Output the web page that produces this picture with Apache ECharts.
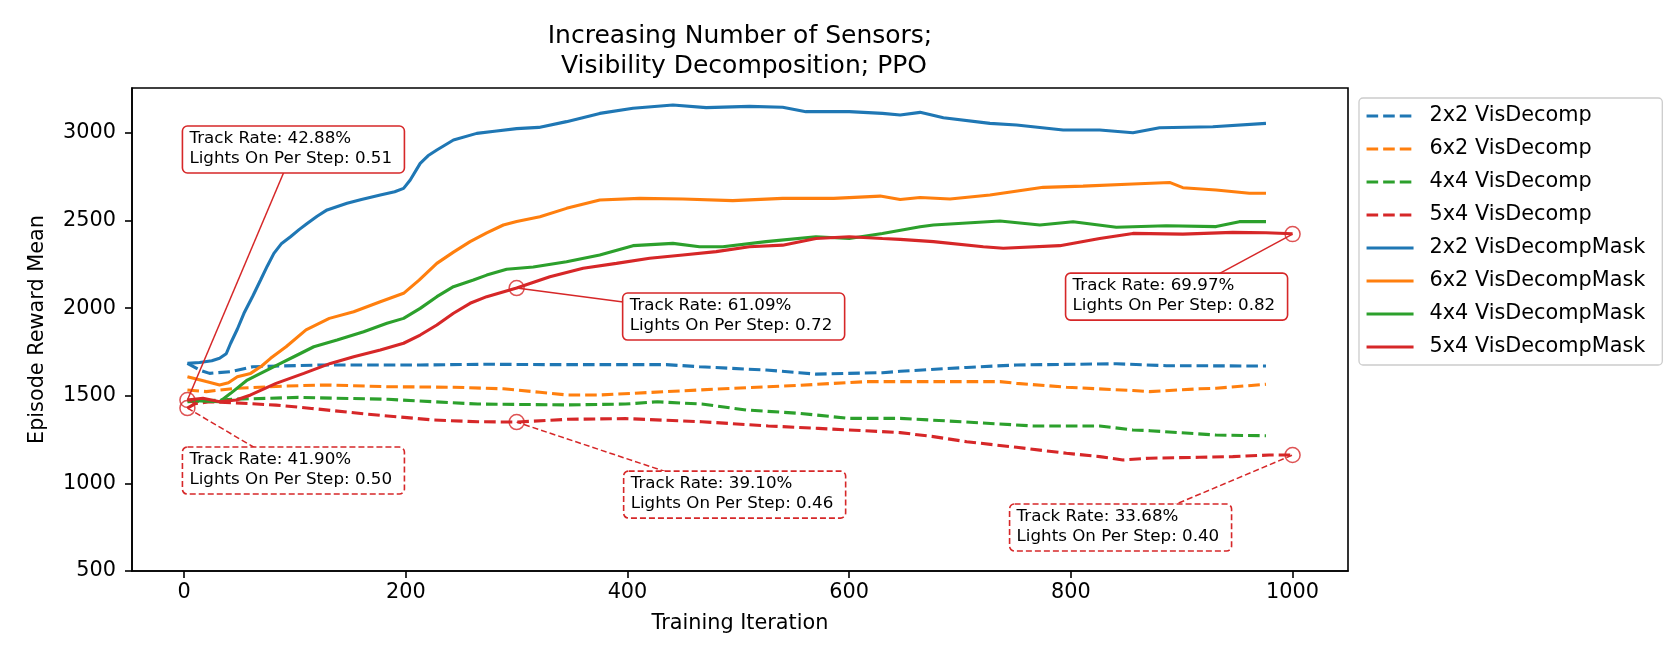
<!DOCTYPE html>
<html><head><meta charset="utf-8">
<script src="https://cdn.jsdelivr.net/npm/echarts@6/dist/echarts.min.js"></script>
<style>html,body{margin:0;padding:0;background:#fff}#c{width:1670px;height:648px}</style>
</head><body><div id="c"></div>
<script>
// ---------------- DATA ----------------
const seriesNames = ['2x2 VisDecomp','6x2 VisDecomp','4x4 VisDecomp','5x4 VisDecomp',
  '2x2 VisDecompMask','6x2 VisDecompMask','4x4 VisDecompMask','5x4 VisDecompMask'];

const blueDashed = [[3,1685],[14,1647],[23,1628],[42,1638],[62,1666],[123,1676],[213,1676],[273,1680],[330,1678],[435,1678],[465,1666],[525,1647],[555,1632],[570,1624],[630,1632],[646,1640],[706,1662],[751,1676],[841,1683],[886,1672],[976,1670]];
const orangeDashed = [[3,1533],[20,1524],[47,1543],[92,1556],[129,1562],[183,1552],[243,1549],[288,1540],[321,1520],[345,1505],[375,1505],[435,1524],[495,1543],[555,1560],[615,1581],[664,1581],[690,1581],[736,1581],[751,1571],[796,1549],[856,1530],[871,1524],[916,1540],[931,1543],[976,1566]];
const greenDashed = [[3,1466],[43,1480],[103,1491],[184,1480],[265,1453],[346,1448],[398,1453],[427,1466],[467,1453],[507,1419],[555,1400],[600,1371],[646,1371],[690,1356],[766,1328],[826,1328],[856,1305],[871,1301],[931,1276],[976,1272]];
const redDashed = [[3,1430],[10,1455],[23,1466],[43,1461],[83,1447],[115,1428],[164,1396],[225,1362],[265,1352],[300,1350],[346,1366],[398,1370],[467,1352],[527,1328],[572,1314],[600,1305],[646,1290],[676,1267],[706,1238],[751,1206],[796,1172],[826,1153],[847,1134],[871,1144],[916,1149],[946,1153],[979,1162],[1000,1162]];

const blueSolid = [[3,1685],[14,1690],[25,1700],[32,1714],[38,1740],[42,1800],[48,1880],[54,1971],[62,2070],[69,2161],[75,2240],[81,2313],[88,2370],[96,2408],[104,2450],[111,2484],[120,2525],[129,2561],[147,2599],[160,2620],[177,2646],[190,2665],[198,2684],[204,2732],[213,2827],[220,2870],[228,2903],[243,2960],[264,2998],[280,3010],[300,3025],[320,3032],[345,3065],[375,3112],[405,3141],[441,3160],[471,3145],[510,3152],[540,3147],[561,3122],[600,3122],[630,3112],[646,3103],[664,3118],[685,3087],[727,3055],[751,3046],[793,3017],[826,3017],[856,3002],[880,3030],[928,3036],[976,3055]];
const orangeSolid = [[3,1609],[20,1581],[32,1562],[40,1575],[48,1609],[60,1628],[70,1670],[78,1714],[92,1780],[110,1876],[131,1942],[153,1980],[177,2037],[198,2085],[212,2160],[228,2256],[243,2320],[258,2380],[273,2430],[288,2475],[300,2495],[321,2522],[345,2570],[375,2618],[411,2627],[450,2623],[495,2614],[540,2627],[586,2627],[628,2640],[646,2621],[664,2632],[691,2623],[727,2646],[775,2690],[811,2697],[856,2709],[889,2718],[901,2688],[931,2675],[961,2656],[976,2656]];
const greenSolid = [[3,1476],[15,1470],[32,1466],[42,1514],[57,1590],[69,1628],[87,1685],[99,1723],[117,1780],[138,1818],[162,1866],[183,1914],[198,1942],[213,1999],[228,2066],[243,2123],[261,2161],[273,2189],[291,2222],[315,2235],[345,2265],[375,2304],[405,2357],[441,2370],[465,2351],[486,2351],[525,2380],[570,2408],[600,2398],[630,2427],[664,2465],[676,2475],[736,2498],[772,2475],[802,2494],[841,2462],[886,2471],[931,2466],[952,2494],[976,2494]];
const redSolid = [[3,1476],[17,1486],[32,1466],[47,1476],[60,1505],[83,1571],[108,1628],[132,1685],[153,1723],[177,1761],[198,1800],[213,1847],[228,1904],[243,1971],[258,2028],[273,2066],[300,2115],[330,2180],[360,2228],[390,2256],[420,2285],[450,2304],[480,2323],[510,2351],[540,2360],[570,2398],[600,2408],[630,2398],[646,2393],[676,2380],[721,2351],[739,2342],[790,2357],[826,2398],[856,2427],[901,2423],[946,2433],[976,2431],[1000,2425]];

const xTicks = [0,200,400,600,800,1000];
const yTicks = [500,1000,1500,2000,2500,3000];

// annotations (points on the 5x4 series)
const annPoints = [[3,1476],[3,1430],[300,2115],[300,1350],[1000,2423],[1000,1162]];
const annTrack  = ['42.88%','41.90%','61.09%','39.10%','69.97%','33.68%'];
const annLights = ['0.51','0.50','0.72','0.46','0.82','0.40'];
const annMasked = [true,false,true,false,true,false];

// ---------------- LAYOUT / STYLE ----------------
const annOffsets = [[-5,-274],[-5,39],[106,5],[107,49],[-227,39],[-283,49]];
const BOX_W = 222, BOX_H = 47;
const FONT = 'DejaVu Sans';
const COLORS = ['#1f77b4','#ff7f0e','#2ca02c','#d62728'];
const RED = '#d62728';
const DASH = [11.6, 5];

const allData = [blueDashed, orangeDashed, greenDashed, redDashed, blueSolid, orangeSolid, greenSolid, redSolid];

const series = allData.map((d, i) => ({
  name: seriesNames[i], type: 'line', data: d, symbol: 'none', showSymbol: false,
  animation: false, z: 2,
  lineStyle: { color: COLORS[i % 4], width: 3.1, type: i < 4 ? DASH : 'solid', cap: 'butt' },
  itemStyle: { color: COLORS[i % 4] },
  emphasis: { disabled: true }
}));
series.push({
  name: 'annotated', type: 'scatter', data: annPoints, symbol: 'circle', symbolSize: 15,
  animation: false, z: 5, silent: true,
  itemStyle: { color: 'rgba(0,0,0,0)', borderColor: RED, borderWidth: 1.5 }
});

const plain = v => String(v);

const chart = echarts.init(document.getElementById('c'));
chart.setOption({
  animation: false,
  backgroundColor: '#fff',
  grid: { left: 132, right: 322, top: 88, bottom: 77, show: true, borderColor: '#000', borderWidth: 1.6, backgroundColor: 'transparent' },
  xAxis: {
    type: 'value', min: -47, max: 1050,
    name: 'Training Iteration', nameLocation: 'middle', nameGap: 42,
    nameTextStyle: { fontFamily: FONT, fontSize: 20.8, color: '#000' },
    axisLine: { show: true, onZero: false, lineStyle: { color: '#000', width: 1.6 } },
    axisTick: { show: true, length: 7, lineStyle: { color: '#000', width: 1.6 }, customValues: xTicks },
    axisLabel: { fontFamily: FONT, fontSize: 20.8, color: '#000', margin: 11, customValues: xTicks, formatter: plain },
    splitLine: { show: false }
  },
  yAxis: {
    type: 'value', min: 500, max: 3257,
    name: 'Episode Reward Mean', nameLocation: 'middle', nameGap: 84,
    nameTextStyle: { fontFamily: FONT, fontSize: 20.8, color: '#000' },
    axisLine: { show: true, onZero: false, lineStyle: { color: '#000', width: 1.6 } },
    axisTick: { show: true, length: 7, lineStyle: { color: '#000', width: 1.6 }, customValues: yTicks },
    axisLabel: { fontFamily: FONT, fontSize: 20.8, color: '#000', margin: 16, customValues: yTicks, formatter: plain },
    splitLine: { show: false }
  },
  legend: {
    orient: 'vertical', left: 1359, top: 98,
    data: seriesNames, selectedMode: false,
    padding: [7, 17, 7, 6], itemGap: 11, itemWidth: 47, itemHeight: 14,
    itemStyle: { color: 'rgba(0,0,0,0)', borderColor: 'rgba(0,0,0,0)', borderWidth: 0 },
    lineStyle: { width: 3.1 },
    textStyle: { fontFamily: FONT, fontSize: 20.8, color: '#000', lineHeight: 22, padding: [0, 0, 0, 11] },
    backgroundColor: 'rgba(255,255,255,0.8)', borderColor: '#cccccc', borderWidth: 1.3, borderRadius: 4
  },
  series: series
});

// ---------------- ANNOTATIONS & TITLE ----------------
const graphics = [{
  type: 'text', x: 740, y: 21, z: 20,
  style: { text: 'Increasing Number of Sensors;\n Visibility Decomposition; PPO', fill: '#000',
    font: '25px "DejaVu Sans"', align: 'center', verticalAlign: 'top', lineHeight: 30 }
}];
annPoints.forEach((p, i) => {
  const px = chart.convertToPixel({ gridIndex: 0 }, p);
  const bx = px[0] + annOffsets[i][0], by = px[1] + annOffsets[i][1];
  const cx = bx + BOX_W / 2, cy = by + BOX_H / 2;
  const dash = annMasked[i] ? null : [6, 3];
  graphics.push({
    type: 'line', z: 10, silent: true,
    shape: { x1: cx, y1: cy, x2: px[0], y2: px[1] },
    style: { stroke: RED, lineWidth: 1.5, lineDash: dash }
  });
  graphics.push({
    type: 'rect', z: 11, silent: true,
    shape: { x: bx, y: by, width: BOX_W, height: BOX_H, r: 5 },
    style: { fill: '#fff', stroke: RED, lineWidth: 1.6, lineDash: dash }
  });
  graphics.push({
    type: 'text', z: 12, silent: true, x: bx + 7, y: by + 3,
    style: { text: 'Track Rate: ' + annTrack[i] + '\nLights On Per Step: ' + annLights[i],
      fill: '#000', font: '16.7px "DejaVu Sans"', align: 'left', verticalAlign: 'top', lineHeight: 20 }
  });
});
chart.setOption({ graphic: graphics });
</script>
</body></html>
